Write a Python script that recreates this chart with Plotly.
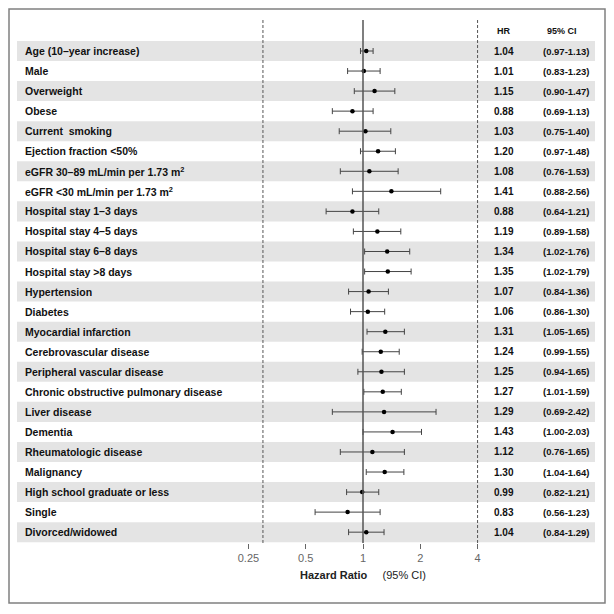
import plotly.graph_objects as go

labels = [
    "Age (10–year increase)", "Male", "Overweight", "Obese", "Current  smoking",
    "Ejection fraction <50%", "eGFR 30–89 mL/min per 1.73 m<sup>2</sup>",
    "eGFR <30 mL/min per 1.73 m<sup>2</sup>", "Hospital stay 1–3 days",
    "Hospital stay 4–5 days", "Hospital stay 6–8 days", "Hospital stay >8 days",
    "Hypertension", "Diabetes", "Myocardial infarction", "Cerebrovascular disease",
    "Peripheral vascular disease", "Chronic obstructive pulmonary disease",
    "Liver disease", "Dementia", "Rheumatologic disease", "Malignancy",
    "High school graduate or less", "Single", "Divorced/widowed",
]
hr = [1.04, 1.01, 1.15, 0.88, 1.03, 1.20, 1.08, 1.41, 0.88, 1.19, 1.34, 1.35,
      1.07, 1.06, 1.31, 1.24, 1.25, 1.27, 1.29, 1.43, 1.12, 1.30, 0.99, 0.83, 1.04]
lo = [0.97, 0.83, 0.90, 0.69, 0.75, 0.97, 0.76, 0.88, 0.64, 0.89, 1.02, 1.02,
      0.84, 0.86, 1.05, 0.99, 0.94, 1.01, 0.69, 1.00, 0.76, 1.04, 0.82, 0.56, 0.84]
hi = [1.13, 1.23, 1.47, 1.13, 1.40, 1.48, 1.53, 2.56, 1.21, 1.58, 1.76, 1.79,
      1.36, 1.30, 1.65, 1.55, 1.65, 1.59, 2.42, 2.03, 1.65, 1.64, 1.21, 1.23, 1.29]
tick_vals = [0.25, 0.5, 1, 2, 4]
tick_text = ["0.25", "0.5", "1", "2", "4"]

n = len(labels)
rows = list(range(n))

W = 606
FONT = "Liberation Sans, Arial, sans-serif"

fig = go.Figure()

shapes = []
for i in rows:
    if i % 2 == 0:
        shapes.append(dict(type="rect", xref="paper", yref="y", x0=9 / W, x1=587 / W,
                           y0=i - 0.5, y1=i + 0.5, fillcolor="#e4e4e4", line_width=0,
                           layer="below"))
shapes.append(dict(type="line", xref="x", yref="paper", x0=1, x1=1, y0=0, y1=1,
                   line=dict(color="#555555", width=1.5)))
for xv in [0.298, 4]:
    shapes.append(dict(type="line", xref="x", yref="paper", x0=xv, x1=xv, y0=0, y1=1,
                       line=dict(color="#555555", width=1, dash="3px,2px")))
shapes.append(dict(type="rect", xref="paper", yref="paper", x0=1 / W, x1=597 / W,
                   y0=-0.1147, y1=1.0210, line=dict(color="#808080", width=1.5),
                   fillcolor="rgba(0,0,0,0)"))

fig.add_trace(go.Scatter(
    x=hr, y=rows, mode="markers",
    marker=dict(color="black", size=4.5),
    error_x=dict(type="data", symmetric=False,
                 array=[h - m for h, m in zip(hi, hr)],
                 arrayminus=[m - l for m, l in zip(hr, lo)],
                 color="#444444", thickness=1, width=3),
    hoverinfo="skip", showlegend=False,
))

ann = []
for i in rows:
    ann.append(dict(xref="paper", yref="y", x=15 / W, y=i, text=f"<b>{labels[i]}</b>",
                    showarrow=False, xanchor="left", yanchor="middle",
                    font=dict(family=FONT, size=10.5, color="#111111")))
    ann.append(dict(xref="paper", yref="y", x=496 / W, y=i, text=f"<b>{hr[i]:.2f}</b>",
                    showarrow=False, xanchor="center", yanchor="middle",
                    font=dict(family=FONT, size=10, color="#111111")))
    ann.append(dict(xref="paper", yref="y", x=558 / W, y=i,
                    text=f"<b>({lo[i]:.2f}-{hi[i]:.2f})</b>",
                    showarrow=False, xanchor="center", yanchor="middle",
                    font=dict(family=FONT, size=9.5, color="#111111")))
ann.append(dict(xref="paper", yref="y", x=496 / W, y=-1, text="<b>HR</b>", showarrow=False,
                xanchor="center", yanchor="middle", font=dict(family=FONT, size=9, color="#111111")))
ann.append(dict(xref="paper", yref="y", x=554 / W, y=-1, text="<b>95% CI</b>", showarrow=False,
                xanchor="center", yanchor="middle", font=dict(family=FONT, size=9, color="#111111")))
ann.append(dict(xref="x", yref="paper", x=0, y=-0.0612,
                text="<b>Hazard Ratio</b>     (95% CI)", showarrow=False,
                xanchor="center", yanchor="middle",
                font=dict(family=FONT, size=11, color="#222222")))

fig.update_layout(
    width=W, height=606,
    margin=dict(l=0, r=0, t=12, b=71),
    plot_bgcolor="white", paper_bgcolor="white",
    shapes=shapes, annotations=ann,
    xaxis=dict(type="log", range=[-1.8655, 1.3190], tickvals=tick_vals, ticktext=tick_text,
               ticks="outside", ticklen=5, tickcolor="#666666", showgrid=False,
               zeroline=False, showline=False,
               tickfont=dict(family=FONT, size=11, color="#666666")),
    yaxis=dict(range=[24.54, -1.546], showticklabels=False, showgrid=False,
               zeroline=False, showline=False),
)

fig.write_html("out.html")
